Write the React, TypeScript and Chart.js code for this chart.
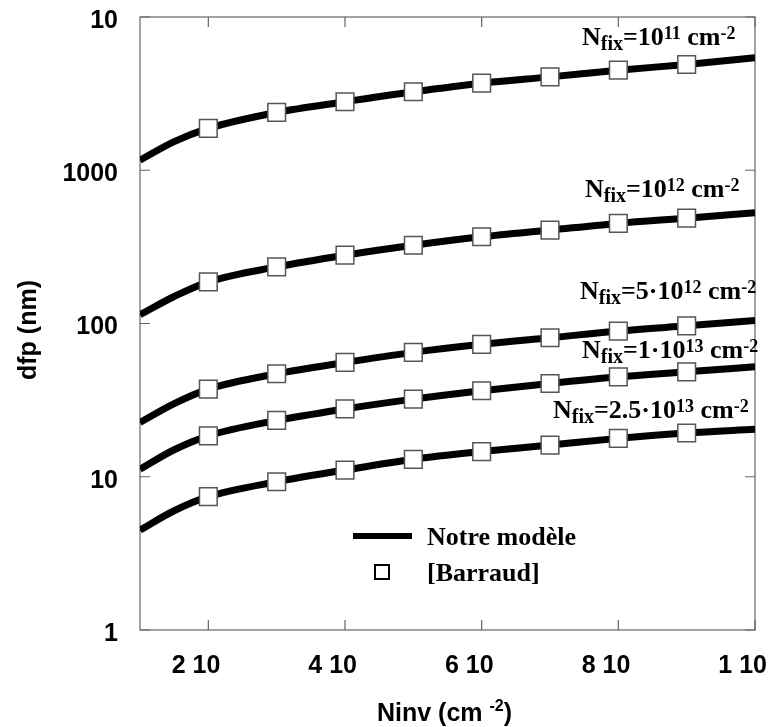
import React, { useEffect, useRef } from "react";
import { Chart, registerables } from "chart.js";

Chart.register(...registerables);

const SANS = '"Liberation Sans", Arial, sans-serif';
const SERIF = '"Liberation Serif", "Times New Roman", serif';

// x values (cm^-2)
const NINV = [1e12, 1.5e12, 2e12, 3e12, 4e12, 5e12, 6e12, 7e12, 8e12, 9e12, 1e13];
// model curves (dfp, nm)
const MODEL_1E11 = [1164, 1537, 1875, 2383, 2800, 3251, 3700, 4067, 4500, 4898, 5430];
const MODEL_1E12 = [114, 150, 187, 234, 279, 324, 368, 407, 450, 487, 529];
const MODEL_5E12 = [22.6, 30.0, 37.3, 47, 55.7, 64.8, 73.1, 80.7, 89.2, 96.6, 104.5];
const MODEL_1E13 = [11.2, 15.0, 18.5, 23.3, 27.7, 32.1, 36.4, 40.6, 44.9, 48.4, 52.2];
const MODEL_25E12 = [4.49, 6.0, 7.41, 9.28, 11.06, 13.0, 14.6, 16.1, 17.8, 19.3, 20.4];

// [Barraud] points
const BARRAUD_NINV = [2e12, 3e12, 4e12, 5e12, 6e12, 7e12, 8e12, 9e12];
const BARRAUD_1E11 = [1875, 2383, 2800, 3251, 3700, 4067, 4500, 4898];
const BARRAUD_1E12 = [187, 234, 279, 324, 368, 407, 450, 487];
const BARRAUD_5E12 = [37.3, 47, 55.7, 64.8, 73.1, 80.7, 89.2, 96.6];
const BARRAUD_1E13 = [18.5, 23.3, 27.7, 32.1, 36.4, 40.6, 44.9, 48.4];
const BARRAUD_25E12 = [7.41, 9.28, 11.06, 13.0, 14.6, 16.1, 17.8, 19.3];

const X_TICKS = [2e12, 4e12, 6e12, 8e12, 1e13];
const X_TICK_LABELS = ["2 10", "4 10", "6 10", "8 10", "1 10"];
const Y_TICKS = [1, 10, 100, 1000, 10000];
const Y_TICK_LABELS = ["1", "10", "100", "1000", "10"];

const X_TITLE = ["Ninv (cm ", "-2", ")"];
const Y_TITLE = "dfp (nm)";
const LEGEND_LINE = "Notre modèle";
const LEGEND_POINTS = "[Barraud]";

// kind: 0 normal, -1 subscript, 1 superscript
type Part = [string, number];
const ANNOTATIONS: Part[][] = [
  [["N", 0], ["fix", -1], ["=10", 0], ["11", 1], [" cm", 0], ["-2", 1]],
  [["N", 0], ["fix", -1], ["=10", 0], ["12", 1], [" cm", 0], ["-2", 1]],
  [["N", 0], ["fix", -1], ["=5·10", 0], ["12", 1], [" cm", 0], ["-2", 1]],
  [["N", 0], ["fix", -1], ["=1·10", 0], ["13", 1], [" cm", 0], ["-2", 1]],
  [["N", 0], ["fix", -1], ["=2.5·10", 0], ["13", 1], [" cm", 0], ["-2", 1]],
];
const ANNOTATION_POS = [
  [582, 45],
  [585, 197],
  [580, 299],
  [582, 358],
  [553, 418],
];

function drawRich(ctx: CanvasRenderingContext2D, parts: Part[], x: number, y: number) {
  let cx = x;
  ctx.textAlign = "left";
  ctx.textBaseline = "alphabetic";
  for (const [text, kind] of parts) {
    const fs = kind === 0 ? 26 : kind === -1 ? 20 : 18;
    ctx.font = `bold ${fs}px ${SERIF}`;
    const dy = kind === -1 ? 5 : kind === 1 ? -6 : 0;
    ctx.fillText(text, cx, y + dy);
    cx += ctx.measureText(text).width;
  }
}

const framePlugin = {
  id: "frame",
  beforeDatasetsDraw(chart: any) {
    const { ctx, chartArea } = chart;
    const { left, right, top, bottom } = chartArea;
    const xs = chart.scales.x;
    const ys = chart.scales.y;
    ctx.save();
    ctx.strokeStyle = "#666";
    ctx.lineWidth = 1.2;
    ctx.strokeRect(left, top, right - left, bottom - top);
    ctx.beginPath();
    for (const v of X_TICKS) {
      const px = xs.getPixelForValue(v);
      ctx.moveTo(px, bottom);
      ctx.lineTo(px, bottom - 10);
      ctx.moveTo(px, top);
      ctx.lineTo(px, top + 10);
    }
    for (const v of Y_TICKS) {
      const py = ys.getPixelForValue(v);
      ctx.moveTo(left, py);
      ctx.lineTo(left + 10, py);
      ctx.moveTo(right, py);
      ctx.lineTo(right - 10, py);
    }
    ctx.stroke();
    ctx.restore();
  },
  afterDraw(chart: any) {
    const ctx: CanvasRenderingContext2D = chart.ctx;
    ctx.save();
    ctx.fillStyle = "#000";
    // annotations
    ANNOTATIONS.forEach((parts, i) => {
      drawRich(ctx, parts, ANNOTATION_POS[i][0], ANNOTATION_POS[i][1]);
    });
    // legend
    ctx.strokeStyle = "#000";
    ctx.lineWidth = 6;
    ctx.beginPath();
    ctx.moveTo(353, 536);
    ctx.lineTo(412, 536);
    ctx.stroke();
    ctx.lineWidth = 2;
    ctx.fillStyle = "#fff";
    ctx.fillRect(375, 565, 14, 14);
    ctx.strokeRect(375, 565, 14, 14);
    ctx.fillStyle = "#000";
    ctx.font = `bold 26px ${SERIF}`;
    ctx.textAlign = "left";
    ctx.textBaseline = "alphabetic";
    ctx.fillText(LEGEND_LINE, 427, 545);
    ctx.fillText(LEGEND_POINTS, 427, 581);
    // y title
    ctx.save();
    ctx.translate(29, 330);
    ctx.rotate(-Math.PI / 2);
    ctx.textAlign = "center";
    ctx.textBaseline = "middle";
    ctx.font = `bold 25px ${SANS}`;
    ctx.fillText(Y_TITLE, 0, 0);
    ctx.restore();
    // x title
    ctx.textAlign = "left";
    ctx.textBaseline = "alphabetic";
    let cx = 377;
    const by = 721;
    ctx.font = `bold 25px ${SANS}`;
    ctx.fillText(X_TITLE[0], cx, by);
    cx += ctx.measureText(X_TITLE[0]).width;
    ctx.font = `bold 16px ${SANS}`;
    ctx.fillText(X_TITLE[1], cx, by - 10);
    cx += ctx.measureText(X_TITLE[1]).width;
    ctx.font = `bold 25px ${SANS}`;
    ctx.fillText(X_TITLE[2], cx, by);
    ctx.restore();
  },
};

export default function App() {
  const ref = useRef<HTMLCanvasElement>(null);
  useEffect(() => {
    document.body.style.margin = "0";
    const canvas = ref.current!;
    const lineDs = (vals: number[]) => ({
      data: NINV.map((x, i) => ({ x, y: vals[i] })),
      borderColor: "#000",
      borderWidth: 7,
      pointRadius: 0,
      cubicInterpolationMode: "monotone" as const,
      fill: false,
      order: 1,
    });
    const markDs = (vals: number[]) => ({
      data: BARRAUD_NINV.map((x, i) => ({ x, y: vals[i] })),
      showLine: false,
      pointStyle: "rect" as const,
      pointRadius: 12.5,
      backgroundColor: "#fff",
      borderColor: "#555",
      borderWidth: 1.5,
      order: 0,
    });
    const chart = new Chart(canvas, {
      type: "line",
      data: {
        datasets: [
          markDs(BARRAUD_1E11),
          markDs(BARRAUD_1E12),
          markDs(BARRAUD_5E12),
          markDs(BARRAUD_1E13),
          markDs(BARRAUD_25E12),
          lineDs(MODEL_1E11),
          lineDs(MODEL_1E12),
          lineDs(MODEL_5E12),
          lineDs(MODEL_1E13),
          lineDs(MODEL_25E12),
        ] as any,
      },
      options: {
        animation: false,
        responsive: false,
        devicePixelRatio: 1,
        layout: { padding: { top: 17, right: 14, left: 0, bottom: 0 } },
        plugins: { legend: { display: false }, tooltip: { enabled: false } },
        scales: {
          x: {
            type: "linear",
            min: 1e12,
            max: 1e13,
            grid: { display: false, drawTicks: true, tickLength: 21 },
            border: { display: false },
            afterBuildTicks: (s: any) => {
              s.ticks = X_TICKS.map((v) => ({ value: v }));
            },
            afterFit: (s: any) => {
              s.height = 97;
            },
            ticks: {
              align: "end",
              labelOffset: 12,
              padding: 0,
              maxRotation: 0,
              autoSkip: false,
              color: "#000",
              font: { family: SANS, size: 25, weight: "bold" },
              callback: (v: any) => X_TICK_LABELS[X_TICKS.indexOf(Number(v))],
            },
          },
          y: {
            type: "logarithmic",
            min: 1,
            max: 10000,
            grid: { display: false, drawTicks: true, tickLength: 22 },
            border: { display: false },
            afterBuildTicks: (s: any) => {
              s.ticks = Y_TICKS.map((v) => ({ value: v }));
            },
            afterFit: (s: any) => {
              s.width = 140;
            },
            ticks: {
              padding: 0,
              labelOffset: 4,
              autoSkip: false,
              color: "#000",
              font: { family: SANS, size: 25, weight: "bold" },
              callback: (v: any) => Y_TICK_LABELS[Y_TICKS.indexOf(Number(v))],
            },
          },
        },
      } as any,
      plugins: [framePlugin],
    });
    return () => chart.destroy();
  }, []);
  return (
    <div style={{ width: 769, height: 727 }}>
      <canvas ref={ref} width={769} height={727} style={{ display: "block" }} />
    </div>
  );
}
